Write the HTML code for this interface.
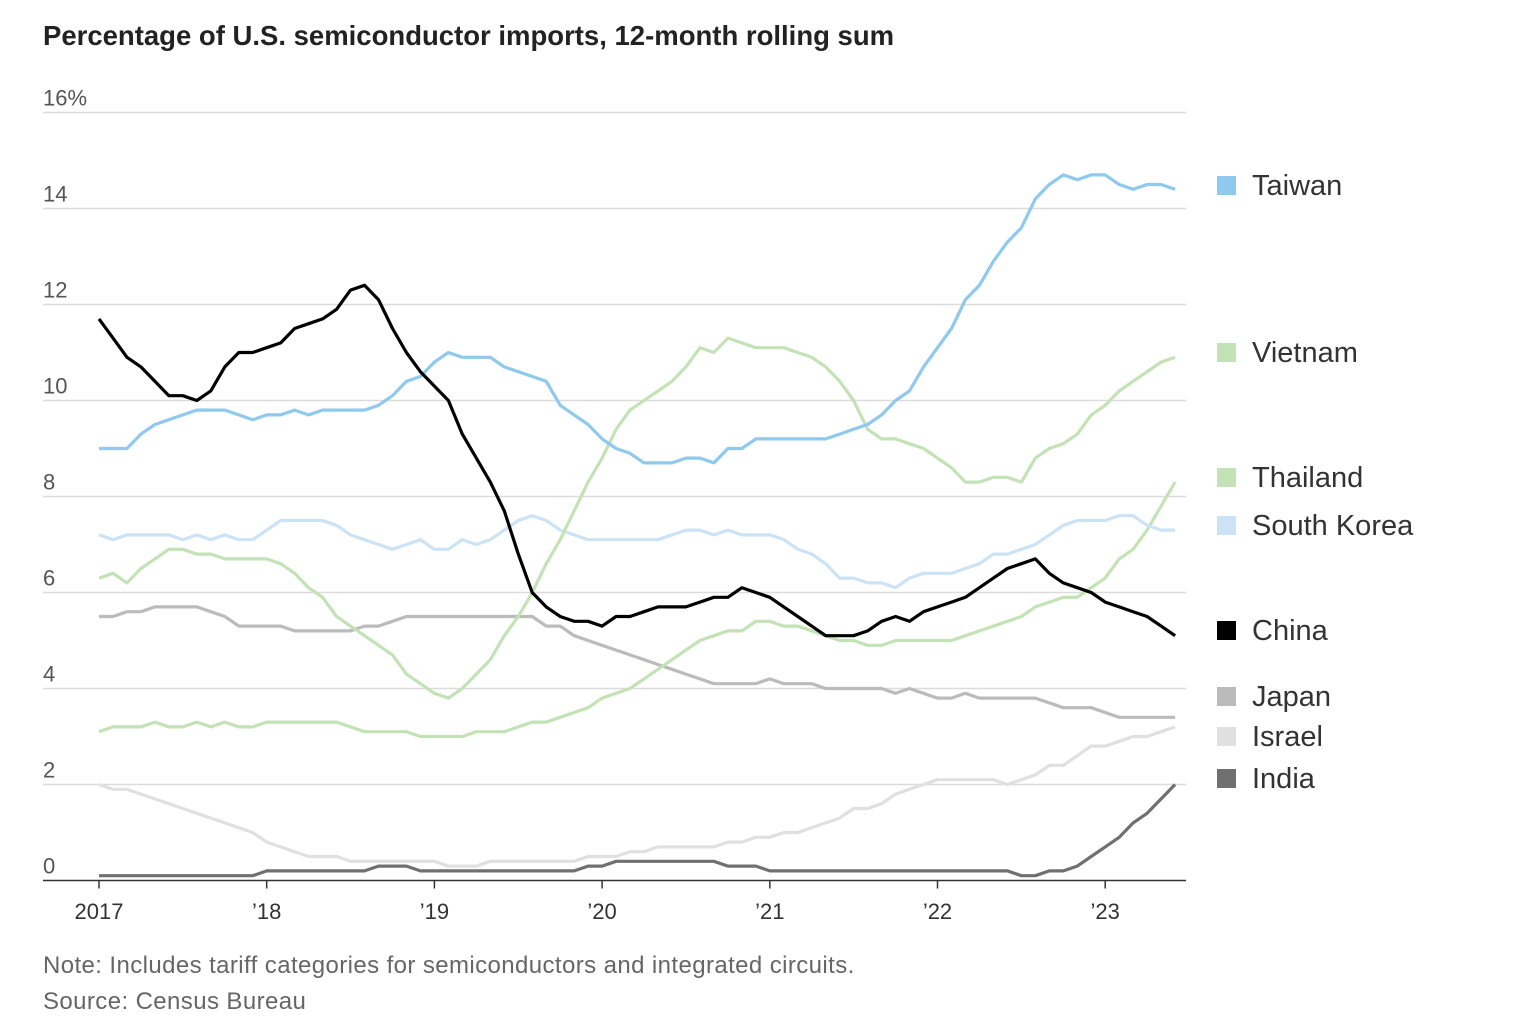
<!DOCTYPE html>
<html><head><meta charset="utf-8">
<style>
body{margin:0;background:#fff;width:1536px;height:1036px;overflow:hidden;font-family:"Liberation Sans",sans-serif;}
.t{position:absolute;}
</style></head><body>
<div class="t" style="left:43px;top:20px;font-size:27.5px;font-weight:bold;color:#222;">Percentage of U.S. semiconductor imports, 12-month rolling sum</div>
<svg id="chart" width="1536" height="1036" style="position:absolute;left:0;top:0"></svg>
<div class="t" style="left:43px;top:952px;font-size:24px;letter-spacing:0.4px;color:#666;">Note: Includes tariff categories for semiconductors and integrated circuits.</div>
<div class="t" style="left:43px;top:988px;font-size:24px;letter-spacing:0.4px;color:#666;">Source: Census Bureau</div>
<script>
const yTicks=[0,2,4,6,8,10,12,14,16];
const yTickLabels=["0","2","4","6","8","10","12","14","16%"];
const xYears=[0,12,24,36,48,60,72];
const xLabels=["2017","’18","’19","’20","’21","’22","’23"];
const seriesNames=["Israel","India","Japan","Thailand","South Korea","Vietnam","Taiwan","China"];
const taiwan=[9.0,9.0,9.0,9.3,9.5,9.6,9.7,9.8,9.8,9.8,9.7,9.6,9.7,9.7,9.8,9.7,9.8,9.8,9.8,9.8,9.9,10.1,10.4,10.5,10.8,11.0,10.9,10.9,10.9,10.7,10.6,10.5,10.4,9.9,9.7,9.5,9.2,9.0,8.9,8.7,8.7,8.7,8.8,8.8,8.7,9.0,9.0,9.2,9.2,9.2,9.2,9.2,9.2,9.3,9.4,9.5,9.7,10.0,10.2,10.7,11.1,11.5,12.1,12.4,12.9,13.3,13.6,14.2,14.5,14.7,14.6,14.7,14.7,14.5,14.4,14.5,14.5,14.4];
const vietnam=[6.3,6.4,6.2,6.5,6.7,6.9,6.9,6.8,6.8,6.7,6.7,6.7,6.7,6.6,6.4,6.1,5.9,5.5,5.3,5.1,4.9,4.7,4.3,4.1,3.9,3.8,4.0,4.3,4.6,5.1,5.5,6.0,6.6,7.1,7.7,8.3,8.8,9.4,9.8,10.0,10.2,10.4,10.7,11.1,11.0,11.3,11.2,11.1,11.1,11.1,11.0,10.9,10.7,10.4,10.0,9.4,9.2,9.2,9.1,9.0,8.8,8.6,8.3,8.3,8.4,8.4,8.3,8.8,9.0,9.1,9.3,9.7,9.9,10.2,10.4,10.6,10.8,10.9];
const thailand=[3.1,3.2,3.2,3.2,3.3,3.2,3.2,3.3,3.2,3.3,3.2,3.2,3.3,3.3,3.3,3.3,3.3,3.3,3.2,3.1,3.1,3.1,3.1,3.0,3.0,3.0,3.0,3.1,3.1,3.1,3.2,3.3,3.3,3.4,3.5,3.6,3.8,3.9,4.0,4.2,4.4,4.6,4.8,5.0,5.1,5.2,5.2,5.4,5.4,5.3,5.3,5.2,5.1,5.0,5.0,4.9,4.9,5.0,5.0,5.0,5.0,5.0,5.1,5.2,5.3,5.4,5.5,5.7,5.8,5.9,5.9,6.1,6.3,6.7,6.9,7.3,7.8,8.3];
const southKorea=[7.2,7.1,7.2,7.2,7.2,7.2,7.1,7.2,7.1,7.2,7.1,7.1,7.3,7.5,7.5,7.5,7.5,7.4,7.2,7.1,7.0,6.9,7.0,7.1,6.9,6.9,7.1,7.0,7.1,7.3,7.5,7.6,7.5,7.3,7.2,7.1,7.1,7.1,7.1,7.1,7.1,7.2,7.3,7.3,7.2,7.3,7.2,7.2,7.2,7.1,6.9,6.8,6.6,6.3,6.3,6.2,6.2,6.1,6.3,6.4,6.4,6.4,6.5,6.6,6.8,6.8,6.9,7.0,7.2,7.4,7.5,7.5,7.5,7.6,7.6,7.4,7.3,7.3];
const china=[11.7,11.3,10.9,10.7,10.4,10.1,10.1,10.0,10.2,10.7,11.0,11.0,11.1,11.2,11.5,11.6,11.7,11.9,12.3,12.4,12.1,11.5,11.0,10.6,10.3,10.0,9.3,8.8,8.3,7.7,6.8,6.0,5.7,5.5,5.4,5.4,5.3,5.5,5.5,5.6,5.7,5.7,5.7,5.8,5.9,5.9,6.1,6.0,5.9,5.7,5.5,5.3,5.1,5.1,5.1,5.2,5.4,5.5,5.4,5.6,5.7,5.8,5.9,6.1,6.3,6.5,6.6,6.7,6.4,6.2,6.1,6.0,5.8,5.7,5.6,5.5,5.3,5.1];
const japan=[5.5,5.5,5.6,5.6,5.7,5.7,5.7,5.7,5.6,5.5,5.3,5.3,5.3,5.3,5.2,5.2,5.2,5.2,5.2,5.3,5.3,5.4,5.5,5.5,5.5,5.5,5.5,5.5,5.5,5.5,5.5,5.5,5.3,5.3,5.1,5.0,4.9,4.8,4.7,4.6,4.5,4.4,4.3,4.2,4.1,4.1,4.1,4.1,4.2,4.1,4.1,4.1,4.0,4.0,4.0,4.0,4.0,3.9,4.0,3.9,3.8,3.8,3.9,3.8,3.8,3.8,3.8,3.8,3.7,3.6,3.6,3.6,3.5,3.4,3.4,3.4,3.4,3.4];
const israel=[2.0,1.9,1.9,1.8,1.7,1.6,1.5,1.4,1.3,1.2,1.1,1.0,0.8,0.7,0.6,0.5,0.5,0.5,0.4,0.4,0.4,0.4,0.4,0.4,0.4,0.3,0.3,0.3,0.4,0.4,0.4,0.4,0.4,0.4,0.4,0.5,0.5,0.5,0.6,0.6,0.7,0.7,0.7,0.7,0.7,0.8,0.8,0.9,0.9,1.0,1.0,1.1,1.2,1.3,1.5,1.5,1.6,1.8,1.9,2.0,2.1,2.1,2.1,2.1,2.1,2.0,2.1,2.2,2.4,2.4,2.6,2.8,2.8,2.9,3.0,3.0,3.1,3.2];
const india=[0.1,0.1,0.1,0.1,0.1,0.1,0.1,0.1,0.1,0.1,0.1,0.1,0.2,0.2,0.2,0.2,0.2,0.2,0.2,0.2,0.3,0.3,0.3,0.2,0.2,0.2,0.2,0.2,0.2,0.2,0.2,0.2,0.2,0.2,0.2,0.3,0.3,0.4,0.4,0.4,0.4,0.4,0.4,0.4,0.4,0.3,0.3,0.3,0.2,0.2,0.2,0.2,0.2,0.2,0.2,0.2,0.2,0.2,0.2,0.2,0.2,0.2,0.2,0.2,0.2,0.2,0.1,0.1,0.2,0.2,0.3,0.5,0.7,0.9,1.2,1.4,1.7,2.0];

const NS="http://www.w3.org/2000/svg";
const svg=document.getElementById('chart');
const X=m=>99+m*13.975;
const Y=v=>880.5-v*48;
function mk(tag,attrs){const e=document.createElementNS(NS,tag);for(const k in attrs)e.setAttribute(k,attrs[k]);svg.appendChild(e);return e;}
yTicks.forEach((v,i)=>{
  if(v>0){const g=mk('line',{x1:43,x2:1186,y1:Y(v),y2:Y(v),stroke:'#dcdcdc','stroke-width':1.5});
  
  }
  const t=mk('text',{x:43,y:Y(v)-7,'font-size':22,fill:'#555'});
  t.textContent=yTickLabels[i];
  
  
});
const ax=mk('line',{x1:43,x2:1186,y1:Y(0),y2:Y(0),stroke:'#333','stroke-width':1.5});


xYears.forEach((m,i)=>{
  const tk=mk('line',{x1:X(m),x2:X(m),y1:Y(0),y2:Y(0)+8,stroke:'#333','stroke-width':1.5});
  
  
  const t=mk('text',{x:X(m),y:919,'font-size':22,fill:'#333','text-anchor':'middle'});
  t.textContent=xLabels[i];
  
  
});
const data={Israel:israel,India:india,Japan:japan,Thailand:thailand,"South Korea":southKorea,Vietnam:vietnam,Taiwan:taiwan,China:china};
const colors={Israel:'#e0e0e0',India:'#707070',Japan:'#bbbbbb',Thailand:'#c3e2b5',"South Korea":'#cbe3f5',Vietnam:'#c3e2b5',Taiwan:'#8fc9ed',China:'#000000'};
seriesNames.forEach(n=>{
  const d=data[n].map((v,i)=>(i?'L':'M')+X(i).toFixed(1)+','+Y(v).toFixed(1)).join('');
  const p=mk('path',{d:d,fill:'none',stroke:colors[n],'stroke-width':3.2,'stroke-linejoin':'round'});
  
  
});
const legY={Taiwan:185,Vietnam:352,Thailand:477,"South Korea":525,China:630,Japan:696,Israel:736,India:778};
["Taiwan","Vietnam","Thailand","South Korea","China","Japan","Israel","India"].forEach(n=>{
  const r=mk('rect',{x:1217,y:legY[n]-9,width:19,height:19,fill:colors[n]});
  
  
  const t=mk('text',{x:1252,y:legY[n]+10,'font-size':29,fill:'#333'});
  t.textContent=n;
  
  
});
</script>
</body></html>
